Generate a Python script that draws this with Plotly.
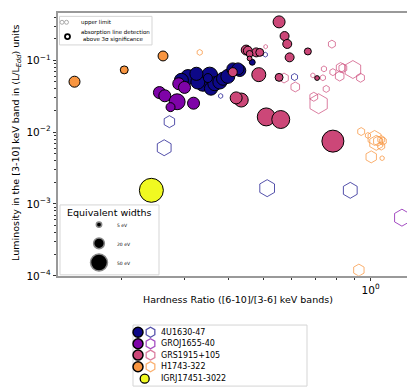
import numpy as np
import plotly.graph_objects as go

# ---- data: hardness ratio, luminosity (L/Ledd), equivalent width (eV) ----
# 4U1630-47
u1630_hr = [0.308, 0.295, 0.339, 0.354, 0.328, 0.325, 0.357, 0.366, 0.378, 0.386, 0.398, 0.411, 0.430, 0.425, 0.466, 0.350]
u1630_lum = [0.0585, 0.0527, 0.0472, 0.0623, 0.0499, 0.0649, 0.0404, 0.0472, 0.0499, 0.0555, 0.0598, 0.0760, 0.0722, 0.0760, 0.0939, 0.0567]
u1630_ew = [39, 34, 39, 44, 34, 30, 30, 34, 34, 30, 34, 25, 25, 25, 6, 14]
u1630_ul_hr = [0.507, 0.612, 0.380, 0.273, 0.264, 0.513, 0.877]
u1630_ul_lum = [0.120, 0.0585, 0.0319, 0.0140, 0.00607, 0.00166, 0.00155]
u1630_ul_ew = [4, 8.5, 4, 25, 44, 50, 44]

# GROJ1655-40
gro_hr = [0.256, 0.265, 0.287, 0.275, 0.290, 0.301, 0.319]
gro_lum = [0.0356, 0.0321, 0.0265, 0.0223, 0.0472, 0.0420, 0.0253]
gro_ew = [25, 25, 44, 14, 25, 25, 25]
gro_ul_hr = [1.224]
gro_ul_lum = [0.000645]
gro_ul_ew = [50]

# GRS1915+105
grs_hr = [0.554, 0.574, 0.584, 0.667, 0.593, 0.448, 0.453, 0.478, 0.458, 0.458, 0.489,
          0.486, 0.554, 0.708, 0.434, 0.420, 0.510, 0.560, 0.784, 0.411]
grs_lum = [0.343, 0.218, 0.169, 0.133, 0.110, 0.139, 0.136, 0.129, 0.123, 0.106, 0.129,
           0.0632, 0.0579, 0.0567, 0.0280, 0.0300, 0.0163, 0.0150, 0.00750, 0.0685]
grs_ew = [25, 14, 14, 8.5, 14, 17, 14, 14, 8, 4, 11, 34, 11, 4, 34, 25, 56, 56, 84, 14]
grs_ul_hr = [0.572, 0.615, 0.715, 0.693, 0.751, 0.735, 0.740, 0.779, 0.784, 0.824, 0.836,
             0.819, 0.892, 0.937, 0.508, 0.689]
grs_ul_lum = [0.0567, 0.0426, 0.0249, 0.0311, 0.0400, 0.0572, 0.0760, 0.168, 0.0685, 0.0794, 0.0780,
              0.0603, 0.0745, 0.0572, 0.155, 0.0617]
grs_ul_ew = [17, 17, 69, 14, 8.5, 6, 6, 11, 8.5, 17, 14, 17, 56, 14, 3, 4]

# H1743-322
h1743_hr = [0.148, 0.204, 0.262]
h1743_lum = [0.0504, 0.0736, 0.115]
h1743_ew = [21, 11, 17]
h1743_ul_hr = [0.332, 0.941, 0.983, 1.026, 1.048, 1.071, 1.082, 1.037, 1.071, 1.004, 1.077, 0.927]
h1743_ul_lum = [0.129, 0.0102, 0.0090, 0.0083, 0.0075, 0.0079, 0.0075, 0.0071, 0.0064, 0.00453, 0.00434, 0.000120]
h1743_ul_ew = [6, 11, 6, 39, 17, 11, 11, 39, 11, 25, 4, 25]

# IGRJ17451-3022
igr_hr = [0.243]
igr_lum = [0.00155]
igr_ew = [100]

sources = ["4U1630-47", "GROJ1655-40", "GRS1915+105", "H1743-322", "IGRJ17451-3022"]
colors = ["#0d0887", "#7e03a8", "#cc4778", "#f89540", "#f0f921"]
hex_colors = ["rgba(13,8,135,0.7)", "rgba(126,3,168,0.7)", "rgba(204,71,120,0.7)",
              "rgba(248,149,64,0.75)", "rgba(240,249,33,0.7)"]

W, H = 415, 390


def msize(ew):
    return 2.4 * np.sqrt(np.array(ew, dtype=float))


def px(p):
    return p / W


def py(p):
    return 1 - p / H


fig = go.Figure()

uls = [(u1630_ul_hr, u1630_ul_lum, u1630_ul_ew), (gro_ul_hr, gro_ul_lum, gro_ul_ew),
       (grs_ul_hr, grs_ul_lum, grs_ul_ew), (h1743_ul_hr, h1743_ul_lum, h1743_ul_ew)]
dets = [(u1630_hr, u1630_lum, u1630_ew), (gro_hr, gro_lum, gro_ew), (grs_hr, grs_lum, grs_ew),
        (h1743_hr, h1743_lum, h1743_ew), (igr_hr, igr_lum, igr_ew)]

# upper limits (open hexagons)
for i, (x, y, ew) in enumerate(uls):
    fig.add_trace(go.Scatter(x=x, y=y, mode='markers', name=sources[i] + ' UL',
                             marker=dict(symbol='hexagon-open', size=msize(ew), color=hex_colors[i],
                                         opacity=1, line=dict(width=1)),
                             showlegend=False))

# detections (filled circles)
for i, (x, y, ew) in enumerate(dets):
    fig.add_trace(go.Scatter(x=x, y=y, mode='markers', name=sources[i],
                             marker=dict(symbol='circle', size=msize(ew), color=colors[i], opacity=1,
                                         line=dict(width=1, color='black')),
                             showlegend=False))


# ---- legends drawn on a pixel overlay axis ----
def ov(**kw):
    fig.add_trace(go.Scatter(xaxis='x2', yaxis='y2', showlegend=False, hoverinfo='skip',
                             cliponaxis=False, **kw))


# top-left legend
ov(x=[54, 58.5], y=[14.5, 14.5], mode='markers',
   marker=dict(symbol='circle-open', size=4, color='#aaaaaa', opacity=1, line=dict(width=1)))
ov(x=[59.5], y=[29], mode='markers',
   marker=dict(symbol='circle-open', size=5, color='black', opacity=1, line=dict(width=1.8)))

# equivalent width legend
ew_leg = [5, 20, 50]
ov(x=[91, 91, 91], y=[220, 239, 258.5], mode='markers',
   marker=dict(symbol='circle', size=msize(ew_leg), color='black', opacity=1,
               line=dict(width=1.5, color='#888888')))

# bottom legend
rows = [329.3, 341, 352.5, 364.3, 376.5]
ov(x=[130] * 4, y=rows[:4], mode='markers',
   marker=dict(symbol='circle', size=10, color=colors[:4], opacity=1, line=dict(width=1.5, color='black')))
ov(x=[142.5] * 4, y=rows[:4], mode='markers',
   marker=dict(symbol='hexagon-open', size=10, color=hex_colors[:4], opacity=1, line=dict(width=1.3)))
ov(x=[136.7], y=[rows[4]], mode='markers',
   marker=dict(symbol='circle', size=9, color=colors[4], opacity=1, line=dict(width=1.3, color='black')))

font = "DejaVu Sans"


def txt(x, y, s, size, anchor='left', angle=0):
    return dict(x=px(x), y=py(y), xref='paper', yref='paper', text=s, showarrow=False,
                xanchor=anchor, yanchor='middle', textangle=angle,
                font=dict(size=size, family=font, color='black'))


ann = [txt(151, r, s, 8) for r, s in zip(rows, sources)]
ann += [
    txt(71, 14.5, 'upper limit', 5.5),
    txt(71, 25, 'absorption line detection', 5.5),
    txt(73, 32, 'above 3σ significance', 5.5),
    txt(101, 207.5, 'Equivalent widths', 9.5, 'center'),
]
ann += [txt(107, yy, t, 4.5) for yy, t in zip([221, 240, 259], ['5 eV', '20 eV', '50 eV'])]
ann += [
    txt(229.5, 296, 'Hardness Ratio ([6-10]/[3-6] keV bands)', 9.5, 'center'),
    txt(9, 137, 'Luminosity in the [3-10] keV band in (L/L<sub><i>Edd</i></sub>) units', 9.5,
        'center', -90),
]

shapes = [
    dict(type='rect', xref='paper', yref='paper', x0=px(51.5), x1=px(144),
         y0=py(37.5), y1=py(8.5), line=dict(color='#d5d5d5', width=1),
         fillcolor='white', layer='below'),
    dict(type='rect', xref='paper', yref='paper', x0=px(52), x1=px(151),
         y0=py(271), y1=py(200), line=dict(color='#d5d5d5', width=1),
         fillcolor='white', layer='below'),
    dict(type='rect', xref='paper', yref='paper', x0=px(125), x1=px(299),
         y0=py(384), y1=py(322), line=dict(color='#d5d5d5', width=1),
         fillcolor='white', layer='below'),
    # threshold lines
    dict(type='line', xref='x', yref='y domain', x0=np.log10(0.8), x1=np.log10(0.8), y0=0, y1=1,
         line=dict(color='#808080', width=1.1, dash='5px,3px'), layer='above'),
    dict(type='line', xref='x domain', yref='y', x0=0, x1=1, y0=-2, y1=-2,
         line=dict(color='#808080', width=1.1, dash='5px,3px'), layer='above'),
]

axis_common = dict(showline=True, mirror=True, linecolor='#999999', linewidth=1.5,
                   ticks='outside', ticklen=3.5, tickcolor='#333333', tickwidth=0.8,
                   showgrid=False, zeroline=False,
                   tickfont=dict(size=10.5, family=font, color='black'))

fig.update_layout(
    width=W, height=H,
    margin=dict(l=0, r=0, t=0, b=0),
    paper_bgcolor='white', plot_bgcolor='rgba(0,0,0,0)',
    xaxis=dict(type='log', domain=[50 / W, 409 / W], range=[-0.876, 0.130],
               tickvals=[1], ticktext=['10<sup>0</sup>'],
               minor=dict(tickvals=[0.2, 0.3, 0.4, 0.5, 0.6, 0.7, 0.8, 0.9], ticklen=2,
                          tickcolor='#333333', tickwidth=0.6, ticks='outside'),
               **axis_common),
    yaxis=dict(type='log', domain=[1 - 272 / H, 1 - 5 / H], range=[-4, -0.34],
               tickvals=[1e-4, 1e-3, 1e-2, 1e-1],
               ticktext=['10<sup>−4</sup>', '10<sup>−3</sup>', '10<sup>−2</sup>', '10<sup>−1</sup>'],
               minor=dict(tickvals=[m * 10.0 ** e for e in (-4, -3, -2, -1) for m in range(2, 10)],
                          ticklen=2, tickcolor='#333333', tickwidth=0.6, ticks='outside'),
               **axis_common),
    xaxis2=dict(domain=[0, 1], range=[0, W], visible=False, anchor='y2'),
    yaxis2=dict(domain=[0, 1], range=[H, 0], visible=False, anchor='x2'),
    annotations=ann,
    shapes=shapes,
    showlegend=False,
)

fig.write_html("out.html")
